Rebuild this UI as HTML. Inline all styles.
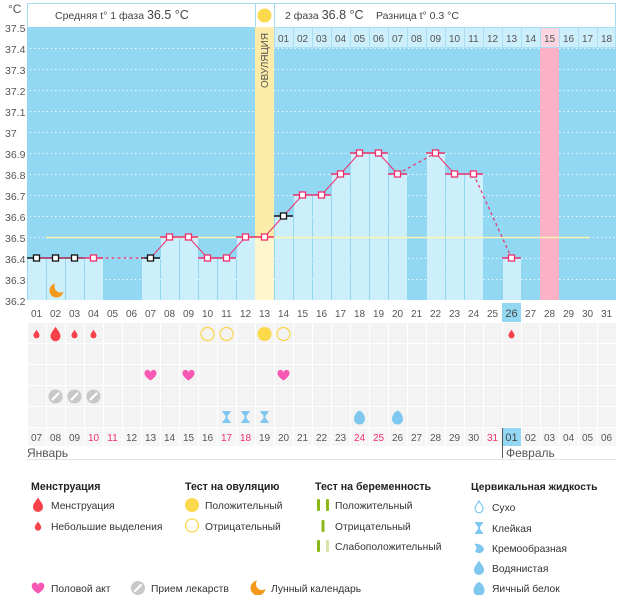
<!DOCTYPE html>
<html><head><meta charset="utf-8"><style>
html,body{margin:0;padding:0;background:#fff;}
svg{display:block;font-family:"Liberation Sans","DejaVu Sans",sans-serif;}
</style></head><body>
<svg width="626" height="595" viewBox="0 0 626 595" xmlns="http://www.w3.org/2000/svg">
<defs>
<pattern id="cells" x="27" y="323" width="19" height="21" patternUnits="userSpaceOnUse"><rect x="1" y="0" width="18" height="20" fill="#f3f3f3"/></pattern>
<pattern id="cells2" x="27" y="428" width="19" height="19" patternUnits="userSpaceOnUse"><rect x="1" y="0" width="18" height="18" fill="#f6f6f6"/></pattern>
<path id="drop" d="M0,-1.6 C0.4,-0.9 1,-0.4 1,0.3 A1,1 0 0 1 -1,0.3 C-1,-0.4 -0.4,-0.9 0,-1.6Z"/>
<path id="heart" d="M0,5 C-3,2.8 -6,0.5 -6,-2.3 A3,3 0 0 1 0,-3 A3,3 0 0 1 6,-2.3 C6,0.5 3,2.8 0,5Z"/>
<path id="hg" d="M-4,-6 H4 V-4.8 L1,-1.2 V1.2 L4,4.8 V6 H-4 V4.8 L-1,1.2 V-1.2 L-4,-4.8Z"/>
<path id="egg" d="M0,-7 C3.5,-5.5 5.5,-1.5 5.5,1.5 A5.5,5.5 0 0 1 -5.5,1.5 C-5.5,-1.5 -3.5,-5.5 0,-7Z"/>
<mask id="moonm" maskUnits="userSpaceOnUse" x="-10" y="-10" width="20" height="20"><rect x="-10" y="-10" width="20" height="20" fill="#fff"/><circle cx="4" cy="-4" r="6" fill="#000"/></mask>
</defs>

<!-- header -->
<rect x="27.5" y="3.5" width="588" height="24" fill="#fff" stroke="#a3dcf2"/>
<line x1="255.5" y1="3" x2="255.5" y2="27" stroke="#a3dcf2"/>
<line x1="274.5" y1="3" x2="274.5" y2="27" stroke="#a3dcf2"/>
<circle cx="264.5" cy="15.5" r="7" fill="#fcd94d"/>
<text x="55" y="19" font-size="10.5" fill="#444">Средняя t° 1 фаза <tspan font-size="12.5">36.5 °C</tspan></text>
<text x="285" y="19" font-size="10.5" fill="#444">2 фаза <tspan font-size="12.5">36.8 °C</tspan></text>
<text x="376" y="19" font-size="10.5" fill="#444">Разница t° 0.3 °C</text>

<!-- y axis -->
<text x="8" y="13" font-size="12" fill="#555">°C</text>
<g font-size="10.5" fill="#555">
<text x="5" y="32">37.5</text><text x="5" y="53">37.4</text><text x="5" y="74">37.3</text><text x="5" y="95">37.2</text><text x="5" y="116">37.1</text><text x="5" y="137">37</text><text x="5" y="158">36.9</text><text x="5" y="179">36.8</text><text x="5" y="200">36.7</text><text x="5" y="221">36.6</text><text x="5" y="242">36.5</text><text x="5" y="263">36.4</text><text x="5" y="284">36.3</text><text x="5" y="305">36.2</text>
</g>

<!-- plot bg -->
<rect x="27" y="27" width="589" height="273" fill="#92d8f3"/>
<g stroke="#fff" stroke-width="1" stroke-dasharray="1.2,3" opacity="0.95">
<line x1="30" y1="48.5" x2="616" y2="48.5"/><line x1="30" y1="69.5" x2="616" y2="69.5"/><line x1="30" y1="90.5" x2="616" y2="90.5"/><line x1="30" y1="111.5" x2="616" y2="111.5"/><line x1="30" y1="132.5" x2="616" y2="132.5"/><line x1="30" y1="153.5" x2="616" y2="153.5"/><line x1="30" y1="174.5" x2="616" y2="174.5"/><line x1="30" y1="195.5" x2="616" y2="195.5"/><line x1="30" y1="216.5" x2="616" y2="216.5"/><line x1="30" y1="237.5" x2="616" y2="237.5"/><line x1="30" y1="258.5" x2="616" y2="258.5"/><line x1="30" y1="279.5" x2="616" y2="279.5"/>
</g>

<!-- phase 2 day cells -->
<g stroke="#a9dff4" stroke-width="1">
<rect x="274.5" y="27.5" width="19" height="20" fill="#cdeefb"/><rect x="293.5" y="27.5" width="19" height="20" fill="#cdeefb"/><rect x="312.5" y="27.5" width="19" height="20" fill="#cdeefb"/><rect x="331.5" y="27.5" width="19" height="20" fill="#cdeefb"/><rect x="350.5" y="27.5" width="19" height="20" fill="#cdeefb"/><rect x="369.5" y="27.5" width="19" height="20" fill="#cdeefb"/><rect x="388.5" y="27.5" width="19" height="20" fill="#cdeefb"/><rect x="407.5" y="27.5" width="19" height="20" fill="#cdeefb"/><rect x="426.5" y="27.5" width="19" height="20" fill="#cdeefb"/><rect x="445.5" y="27.5" width="19" height="20" fill="#cdeefb"/><rect x="464.5" y="27.5" width="19" height="20" fill="#cdeefb"/><rect x="483.5" y="27.5" width="19" height="20" fill="#cdeefb"/><rect x="502.5" y="27.5" width="19" height="20" fill="#cdeefb"/><rect x="521.5" y="27.5" width="19" height="20" fill="#cdeefb"/><rect x="540.5" y="27.5" width="19" height="20" fill="#fdd6e1"/><rect x="559.5" y="27.5" width="19" height="20" fill="#cdeefb"/><rect x="578.5" y="27.5" width="19" height="20" fill="#cdeefb"/><rect x="597.5" y="27.5" width="18" height="20" fill="#cdeefb"/>
</g>
<g font-size="10" fill="#555" text-anchor="middle">
<text x="283.5" y="42">01</text><text x="302.5" y="42">02</text><text x="321.5" y="42">03</text><text x="340.5" y="42">04</text><text x="359.5" y="42">05</text><text x="378.5" y="42">06</text><text x="397.5" y="42">07</text><text x="416.5" y="42">08</text><text x="435.5" y="42">09</text><text x="454.5" y="42">10</text><text x="473.5" y="42">11</text><text x="492.5" y="42">12</text><text x="511.5" y="42">13</text><text x="530.5" y="42">14</text><text x="549.5" y="42">15</text><text x="568.5" y="42">16</text><text x="587.5" y="42">17</text><text x="606.5" y="42">18</text>
</g>

<!-- ovulation column & pink column -->
<rect x="255" y="27" width="19" height="273" fill="#fdeca8"/>
<rect x="540" y="48" width="19" height="252" fill="#fbb1c6"/>
<text x="268" y="88" font-size="10.5" fill="#555" transform="rotate(-90 268 88)" textLength="55" lengthAdjust="spacingAndGlyphs">ОВУЛЯЦИЯ</text>

<!-- bars -->
<g fill="#cdeefb">
<rect x="28" y="258" width="18" height="42"/><rect x="47" y="258" width="18" height="42"/><rect x="66" y="258" width="18" height="42"/><rect x="85" y="258" width="18" height="42"/>
<rect x="142" y="258" width="18" height="42"/><rect x="161" y="237" width="18" height="63"/><rect x="180" y="237" width="18" height="63"/><rect x="199" y="258" width="18" height="42"/><rect x="218" y="258" width="18" height="42"/><rect x="237" y="237" width="18" height="63"/>
<rect x="275" y="216" width="18" height="84"/><rect x="294" y="195" width="18" height="105"/><rect x="313" y="195" width="18" height="105"/><rect x="332" y="174" width="18" height="126"/><rect x="351" y="153" width="18" height="147"/><rect x="370" y="153" width="18" height="147"/><rect x="389" y="174" width="18" height="126"/>
<rect x="427" y="153" width="18" height="147"/><rect x="446" y="174" width="18" height="126"/><rect x="465" y="174" width="18" height="126"/><rect x="503" y="258" width="18" height="42"/>
</g>
<rect x="255" y="237" width="19" height="63" fill="#fef6cd"/>

<!-- coverline -->
<line x1="46" y1="237.5" x2="590" y2="237.5" stroke="#fdf3b2" stroke-width="1.5"/>

<!-- horizontal segments -->
<g stroke-width="1.6" fill="none">
<g stroke="#111">
<line x1="27" y1="258" x2="84" y2="258"/><line x1="141" y1="258" x2="160" y2="258"/><line x1="274" y1="216" x2="293" y2="216"/>
</g>
<g stroke="#ee2f6b">
<line x1="84" y1="258" x2="103" y2="258"/><line x1="160" y1="237" x2="198" y2="237"/><line x1="198" y1="258" x2="236" y2="258"/><line x1="236" y1="237" x2="274" y2="237"/><line x1="293" y1="195" x2="331" y2="195"/><line x1="331" y1="174" x2="350" y2="174"/><line x1="350" y1="153" x2="388" y2="153"/><line x1="388" y1="174" x2="407" y2="174"/><line x1="426" y1="153" x2="445" y2="153"/><line x1="445" y1="174" x2="483" y2="174"/><line x1="502" y1="258" x2="521" y2="258"/>
</g>
</g>
<!-- connecting lines -->
<g stroke="#ee2f6b" stroke-width="1" fill="none">
<polyline points="36.5,258 93.5,258"/>
<polyline points="150.5,258 169.5,237 188.5,237 207.5,258 226.5,258 245.5,237 264.5,237 283.5,216 302.5,195 321.5,195 340.5,174 359.5,153 378.5,153 397.5,174"/>
<polyline points="435.5,153 454.5,174 473.5,174"/>
<g stroke-dasharray="3,3" stroke-width="1.2">
<line x1="93.5" y1="258" x2="150.5" y2="258"/><line x1="397.5" y1="174" x2="435.5" y2="153"/><line x1="473.5" y1="174" x2="511.5" y2="258"/>
</g>
</g>
<!-- markers -->
<g fill="#fff" stroke-width="1.3">
<g stroke="#111">
<rect x="33.5" y="255" width="6" height="6"/><rect x="52.5" y="255" width="6" height="6"/><rect x="71.5" y="255" width="6" height="6"/><rect x="147.5" y="255" width="6" height="6"/><rect x="280.5" y="213" width="6" height="6"/>
</g>
<g stroke="#ee2f6b">
<rect x="90.5" y="255" width="6" height="6"/><rect x="166.5" y="234" width="6" height="6"/><rect x="185.5" y="234" width="6" height="6"/><rect x="204.5" y="255" width="6" height="6"/><rect x="223.5" y="255" width="6" height="6"/><rect x="242.5" y="234" width="6" height="6"/><rect x="261.5" y="234" width="6" height="6"/><rect x="299.5" y="192" width="6" height="6"/><rect x="318.5" y="192" width="6" height="6"/><rect x="337.5" y="171" width="6" height="6"/><rect x="356.5" y="150" width="6" height="6"/><rect x="375.5" y="150" width="6" height="6"/><rect x="394.5" y="171" width="6" height="6"/><rect x="432.5" y="150" width="6" height="6"/><rect x="451.5" y="171" width="6" height="6"/><rect x="470.5" y="171" width="6" height="6"/><rect x="508.5" y="255" width="6" height="6"/>
</g>
</g>
<!-- moon -->
<g transform="translate(56.5 290.5)"><circle r="7" fill="#f39a1c" mask="url(#moonm)"/></g>

<!-- top date labels -->
<rect x="502" y="303" width="19" height="19" fill="#92d8f3"/>
<g font-size="10" fill="#555" text-anchor="middle">
<text x="36.5" y="317">01</text><text x="55.5" y="317">02</text><text x="74.5" y="317">03</text><text x="93.5" y="317">04</text><text x="112.5" y="317">05</text><text x="131.5" y="317">06</text><text x="150.5" y="317">07</text><text x="169.5" y="317">08</text><text x="188.5" y="317">09</text><text x="207.5" y="317">10</text><text x="226.5" y="317">11</text><text x="245.5" y="317">12</text><text x="264.5" y="317">13</text><text x="283.5" y="317">14</text><text x="302.5" y="317">15</text><text x="321.5" y="317">16</text><text x="340.5" y="317">17</text><text x="359.5" y="317">18</text><text x="378.5" y="317">19</text><text x="397.5" y="317">20</text><text x="416.5" y="317">21</text><text x="435.5" y="317">22</text><text x="454.5" y="317">23</text><text x="473.5" y="317">24</text><text x="492.5" y="317">25</text><text x="511.5" y="317" font-size="11" fill="#444">26</text><text x="530.5" y="317">27</text><text x="549.5" y="317">28</text><text x="568.5" y="317">29</text><text x="587.5" y="317">30</text><text x="606.5" y="317">31</text>
</g>

<!-- icon rows -->
<rect x="27" y="323" width="589" height="104" fill="url(#cells)"/>
<rect x="27" y="428" width="589" height="18" fill="url(#cells2)"/>

<g fill="#f6414b">
<use href="#drop" transform="translate(36.5 334.5) scale(3)"/>
<use href="#drop" transform="translate(55.5 334.7) scale(5)"/>
<use href="#drop" transform="translate(74.5 334.5) scale(3)"/>
<use href="#drop" transform="translate(93.5 334.5) scale(3)"/>
<use href="#drop" transform="translate(511.5 334.5) scale(3)"/>
</g>
<g fill="none" stroke="#fbd54a" stroke-width="1.2">
<circle cx="207.5" cy="334" r="6.5"/><circle cx="226.5" cy="334" r="6.5"/><circle cx="283.5" cy="334" r="6.5"/>
</g>
<circle cx="264.5" cy="334" r="7" fill="#fcd94a"/>
<g fill="#f758b4">
<use href="#heart" transform="translate(150.5 375.5)"/><use href="#heart" transform="translate(188.5 375.5)"/><use href="#heart" transform="translate(283.5 375.5)"/>
</g>
<g>
<circle cx="55.5" cy="396.5" r="7" fill="#c8c8c8"/><circle cx="74.5" cy="396.5" r="7" fill="#c8c8c8"/><circle cx="93.5" cy="396.5" r="7" fill="#c8c8c8"/>
<g stroke="#fff" stroke-width="2.2" stroke-linecap="round">
<line x1="52.5" y1="399.5" x2="58.5" y2="393.5"/><line x1="71.5" y1="399.5" x2="77.5" y2="393.5"/><line x1="90.5" y1="399.5" x2="96.5" y2="393.5"/>
</g>
</g>
<g fill="#7ec7ef">
<use href="#hg" transform="translate(226.5 417)"/><use href="#hg" transform="translate(245.5 417)"/><use href="#hg" transform="translate(264.5 417)"/>
<use href="#egg" transform="translate(359.5 417.5)"/><use href="#egg" transform="translate(397.5 417.5)"/>
</g>

<!-- bottom dates -->
<rect x="502" y="428" width="19" height="18" fill="#92d8f3"/>
<g font-size="10" fill="#555" text-anchor="middle">
<text x="36.5" y="441">07</text><text x="55.5" y="441">08</text><text x="74.5" y="441">09</text><text x="93.5" y="441" fill="#f0306a">10</text><text x="112.5" y="441" fill="#f0306a">11</text><text x="131.5" y="441">12</text><text x="150.5" y="441">13</text><text x="169.5" y="441">14</text><text x="188.5" y="441">15</text><text x="207.5" y="441">16</text><text x="226.5" y="441" fill="#f0306a">17</text><text x="245.5" y="441" fill="#f0306a">18</text><text x="264.5" y="441">19</text><text x="283.5" y="441">20</text><text x="302.5" y="441">21</text><text x="321.5" y="441">22</text><text x="340.5" y="441">23</text><text x="359.5" y="441" fill="#f0306a">24</text><text x="378.5" y="441" fill="#f0306a">25</text><text x="397.5" y="441">26</text><text x="416.5" y="441">27</text><text x="435.5" y="441">28</text><text x="454.5" y="441">29</text><text x="473.5" y="441">30</text><text x="492.5" y="441" fill="#f0306a">31</text><text x="511.5" y="441" font-size="11" fill="#444">01</text><text x="530.5" y="441">02</text><text x="549.5" y="441">03</text><text x="568.5" y="441">04</text><text x="587.5" y="441">05</text><text x="606.5" y="441">06</text>
</g>
<line x1="27" y1="459.5" x2="616" y2="459.5" stroke="#e4e4e4"/>
<line x1="502.5" y1="428" x2="502.5" y2="458" stroke="#555"/>
<text x="27" y="457" font-size="12" fill="#555">Январь</text>
<text x="506" y="457" font-size="12" fill="#555">Февраль</text>

<!-- legend -->
<g font-size="10.6" font-weight="bold" fill="#222">
<text x="31" y="490">Менструация</text>
<text x="185" y="490">Тест на овуляцию</text>
<text x="315" y="490">Тест на беременность</text>
<text x="471" y="490" font-size="10.4">Цервикальная жидкость</text>
</g>
<g font-size="10.3" fill="#333">
<text x="51" y="509">Менструация</text>
<text x="51" y="530">Небольшие выделения</text>
<text x="205" y="509">Положительный</text>
<text x="205" y="530">Отрицательный</text>
<text x="335" y="509">Положительный</text>
<text x="335" y="530">Отрицательный</text>
<text x="335" y="550">Слабоположительный</text>
<text x="492" y="511">Сухо</text>
<text x="492" y="532">Клейкая</text>
<text x="492" y="552">Кремообразная</text>
<text x="492" y="572">Водянистая</text>
<text x="492" y="592">Яичный белок</text>
<text x="51" y="592">Половой акт</text>
<text x="151" y="592">Прием лекарств</text>
<text x="271" y="592">Лунный календарь</text>
</g>
<g fill="#f6414b">
<use href="#drop" transform="translate(38 505.5) scale(5)"/>
<use href="#drop" transform="translate(38 526.5) scale(3.2)"/>
</g>
<circle cx="192" cy="505" r="7" fill="#fcd94a"/>
<circle cx="192" cy="525.5" r="6.5" fill="none" stroke="#fbd54a" stroke-width="1.2"/>
<g fill="#8cb71b">
<rect x="317" y="499" width="3" height="12" rx="1"/><rect x="326" y="499" width="3" height="12" rx="1"/>
<rect x="321.5" y="520" width="3" height="12" rx="1"/>
<rect x="317" y="540" width="3" height="12" rx="1"/>
</g>
<rect x="326" y="540" width="3" height="12" rx="1" fill="#d6e6a8"/>
<use href="#drop" transform="translate(479 507.5) scale(4)" fill="none" stroke="#7ec7ef" stroke-width="0.3"/>
<use href="#hg" transform="translate(479 528)" fill="#7ec7ef"/>
<path d="M474,544 C478,543 483,545 484,549 A5,5 0 0 1 475,551 C477,549 477,546 474,544Z" fill="#7ec7ef"/>
<use href="#drop" transform="translate(479 568.5) scale(5)" fill="#7ec7ef"/>
<use href="#egg" transform="translate(479 589)" fill="#7ec7ef"/>
<use href="#heart" transform="translate(38 588.5) scale(1.05)" fill="#f758b4"/>
<circle cx="138" cy="588" r="7" fill="#c8c8c8"/>
<line x1="135" y1="591" x2="141" y2="585" stroke="#fff" stroke-width="2.2" stroke-linecap="round"/>
<g transform="translate(258 588)"><circle r="7.5" fill="#f39a1c" mask="url(#moonm)"/></g>
</svg>
</body></html>
